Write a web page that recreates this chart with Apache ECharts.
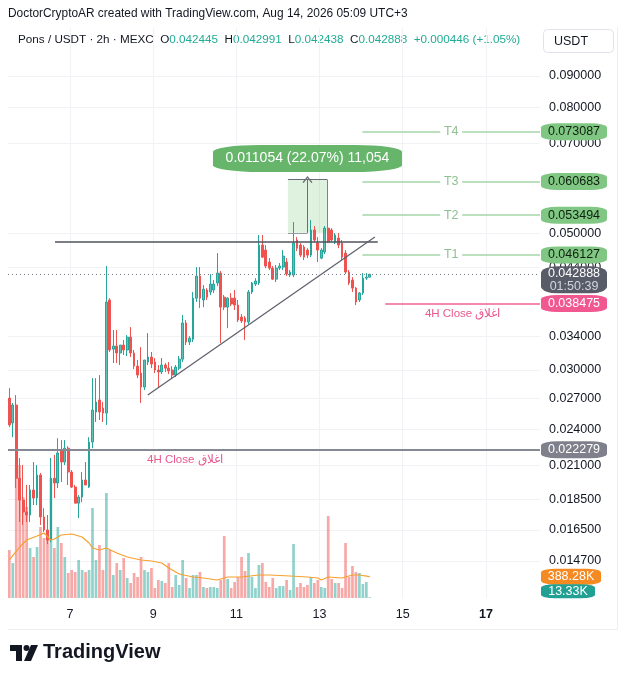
<!DOCTYPE html>
<html><head><meta charset="utf-8">
<script src="https://cdn.jsdelivr.net/npm/echarts@6.0.0/dist/echarts.min.js"></script>
<style>html,body{margin:0;padding:0;background:#fff}#c{width:628px;height:680px}</style>
</head><body><div id="c"></div>
<script>
const FONT = '"Liberation Sans", Arial, sans-serif';

// ---- time base (days of August, UTC+3), one 2h candle per step ----
const startDay = 5 + 13 / 24;
const candleStep = 1 / 12;

// ---- OHLC (USDT) ----
const openP = [0.02701,0.02461,0.02632,0.02002,0.01845,0.01765,0.01745,0.01916,0.01859,0.02026,
0.01732,0.01650,0.01589,0.02002,0.01967,0.02225,0.02127,0.02240,0.02049,0.01937,
0.01824,0.01866,0.01989,0.01937,0.02292,0.02564,0.02682,0.02602,0.02554,0.03897,
0.03243,0.03281,0.03197,0.03293,0.03233,0.03392,0.03197,0.03044,0.02966,0.02815,
0.03091,0.03149,0.03091,0.03000,0.02978,0.03056,0.03021,0.03000,0.02944,0.03021,
0.03124,0.03576,0.03331,0.03366,0.03924,0.04261,0.03897,0.04045,0.04015,0.04045,
0.04152,0.04310,0.03939,0.03795,0.03924,0.03924,0.03824,0.03656,0.03642,0.03589,
0.04015,0.04136,0.04152,0.04785,0.04697,0.04491,0.04390,0.04213,0.04390,0.04407,
0.04491,0.04278,0.04278,0.04876,0.04785,0.04749,0.04697,0.04609,0.05062,0.04821,
0.04557,0.04662,0.05098,0.05062,0.04840,0.04911,0.04821,0.04644,0.04326,0.04199,
0.04074,0.03897,0.04000,0.04229,0.042445];
const highP = [0.02804,0.02652,0.02732,0.02159,0.02103,0.01952,0.01952,0.02127,0.02103,0.02041,
0.01790,0.01745,0.02159,0.02184,0.02325,0.02309,0.02309,0.02257,0.02064,0.01952,
0.01880,0.02049,0.02127,0.02334,0.02910,0.02910,0.02944,0.02662,0.04424,0.03924,
0.03483,0.03483,0.03293,0.03356,0.03418,0.03522,0.03233,0.03114,0.03268,0.03114,
0.03444,0.03209,0.03137,0.03056,0.03137,0.03079,0.03091,0.03044,0.03056,0.03161,
0.03684,0.03616,0.03405,0.04015,0.04407,0.04407,0.04121,0.04074,0.04294,0.04199,
0.04644,0.04343,0.03970,0.03939,0.04000,0.04045,0.03897,0.03698,0.03670,0.04045,
0.04168,0.04229,0.04968,0.04968,0.04785,0.04557,0.04424,0.04441,0.04474,0.04697,
0.04557,0.04359,0.05216,0.04930,0.04821,0.04785,0.04730,0.05255,0.05137,0.04930,
0.04730,0.05137,0.06114,0.05098,0.05005,0.05005,0.04876,0.04697,0.04359,0.04245,
0.04089,0.04015,0.04310,0.04310,0.042991];
const lowP = [0.02424,0.02334,0.01930,0.01700,0.01681,0.01700,0.01700,0.01811,0.01811,0.01681,
0.01638,0.01565,0.01577,0.01859,0.01930,0.01974,0.02103,0.01952,0.01930,0.01824,
0.01725,0.01831,0.01952,0.01930,0.02240,0.02470,0.02489,0.02470,0.02443,0.03209,
0.03079,0.03079,0.03056,0.03173,0.03161,0.03149,0.03009,0.02910,0.02652,0.02784,
0.03056,0.03021,0.02966,0.02815,0.02955,0.02978,0.02955,0.02910,0.02922,0.03000,
0.03091,0.03293,0.03293,0.03331,0.03868,0.03781,0.03795,0.03897,0.03970,0.04000,
0.04105,0.03318,0.03754,0.03508,0.03810,0.03754,0.03589,0.03576,0.03356,0.03562,
0.03985,0.04105,0.04121,0.04557,0.04390,0.04359,0.04199,0.04168,0.04359,0.04359,
0.04261,0.04245,0.04245,0.04679,0.04574,0.04525,0.04557,0.04574,0.04840,0.04491,
0.04539,0.04627,0.04821,0.04840,0.04803,0.04730,0.04525,0.04294,0.04121,0.04015,
0.03824,0.03868,0.03970,0.04199,0.042438];
const closeP = [0.02443,0.02632,0.02002,0.01845,0.01765,0.01745,0.01916,0.01859,0.02026,0.01732,
0.01650,0.01589,0.02002,0.01967,0.02200,0.02127,0.02240,0.02049,0.01937,0.01824,
0.01866,0.01989,0.01952,0.02292,0.02583,0.02662,0.02564,0.02554,0.03868,0.03233,
0.03281,0.03197,0.03293,0.03233,0.03392,0.03197,0.03044,0.02944,0.02815,0.03114,
0.03149,0.03068,0.03000,0.02978,0.03056,0.03021,0.02989,0.02944,0.03033,0.03124,
0.03576,0.03331,0.03379,0.03924,0.04261,0.03924,0.04058,0.03939,0.04136,0.04136,
0.04310,0.03795,0.03795,0.03924,0.03839,0.03824,0.03616,0.03603,0.03589,0.04015,
0.04152,0.04183,0.04785,0.04574,0.04424,0.04390,0.04213,0.04390,0.04424,0.04592,
0.04294,0.04326,0.04821,0.04730,0.04609,0.04574,0.04609,0.05062,0.04876,0.04697,
0.04697,0.05098,0.04840,0.04876,0.04968,0.04785,0.04574,0.04326,0.04152,0.04074,
0.03868,0.04000,0.04229,0.042442,0.042888];

// ---- volume (thousands) ----
const volumeK = [874,637,2512,2421,1838,1656,910,746,928,1292,
1092,1183,2184,910,1292,1001,746,455,510,473,
692,510,473,510,1638,692,965,510,1911,874,
419,637,510,728,364,273,455,382,746,510,
473,546,182,328,309,273,637,200,419,237,
692,364,182,419,419,473,200,182,200,200,
182,328,1128,346,182,291,382,746,491,819,
382,182,601,637,291,200,364,182,218,218,
328,146,983,200,273,200,237,382,273,328,
200,182,1492,346,273,273,182,1001,382,582,
473,455,255,291,13.33];
// volume moving average: [candle index, value K]
const volMaPoints = [[0,692],[3,928],[5,1056],[8,1128],[10,1183],[12,1056],[13,1074],[15,1147],[18,1165],[21,1110],
[23,1001],[24,910],[26,874],[28,910],[31,819],[34,746],[38,692],[41,673],[44,637],[46,546],
[49,437],[53,382],[56,364],[60,328],[63,382],[67,382],[72,419],[75,419],[81,400],[86,382],
[89,364],[90,328],[92,382],[96,364],[99,419],[101,419],[104,388.28]];

// ---- axes ----
const priceTicks = [0.09,0.08,0.07,0.05,0.044,0.034,0.03,0.027,0.024,0.021,0.0185,0.0165,0.0147];
const dayTicks = [7,9,11,13,15,17];
const boldDay = 17;
const xMin = 5.51, xMax = 18.30;
const priceMin = 0.012797, priceMax = 0.107685;
const volMax = 10374;

// ---- drawings ----
const targets = [{name:'T4',price:0.073087},{name:'T3',price:0.060683},{name:'T2',price:0.053494},{name:'T1',price:0.046127}];
const targetStartDay = 14.03;
const resistance = {price:0.0484, from:6.64, to:14.40};
const trendLine = [[8.87,0.02732],[14.33,0.04930]];
const closePink = {price:0.038475, from:14.58, text:'4H Close اغلاق'};
const closeGray = {price:0.022279, labelDay:9.76, text:'4H Close اغلاق'};
const measure = {from:0.050087, to:0.061141, startDay:12.24, endDay:13.18};
const countdown = '01:50:39';

const UP = '#26a69a', DOWN = '#ef5350';
const times = openP.map((_, i) => startDay + i * candleStep);
const n = openP.length, last = n - 1;
const lastClose = closeP[last];
const change = lastClose - closeP[last - 1];
const changePct = change / closeP[last - 1] * 100;
const f6 = v => v.toFixed(6);

function tag(coordPrice, bg, fg, text, size, offset, extraLabel) {
  return {
    coord: [xMax, coordPrice], symbol: 'roundRect', symbolSize: size || [66, 17],
    symbolOffset: offset || [34, 0], itemStyle: {color: bg},
    label: Object.assign({show: true, position: 'inside', formatter: text, color: fg,
      fontSize: 12.5, fontFamily: FONT}, extraLabel || {})
  };
}
function solid(color, width) { return {color: color, width: width, type: 'solid'}; }

const mDiff = measure.to - measure.from;
const measureText = f6(mDiff) + ' (' + (mDiff / measure.from * 100).toFixed(2) + '%) ' +
  Math.round(mDiff * 1e6).toLocaleString('en-US');
const mMid = (measure.startDay + measure.endDay) / 2;

const lineMarks = [
  [{coord:[resistance.from, resistance.price], lineStyle:solid('#50535e', 1.5)}, {coord:[resistance.to, resistance.price]}],
  [{coord:trendLine[0], lineStyle:solid('#5d606b', 1.2)}, {coord:trendLine[1]}],
  ...targets.map(t => [{coord:[targetStartDay, t.price], lineStyle:solid('#a5d6a7', 1.5)}, {coord:[xMax, t.price]}]),
  [{coord:[closePink.from, closePink.price], lineStyle:solid('#f06292', 1.5),
    label:{show:true, position:'insideMiddleBottom', formatter:closePink.text, color:'#e8588d', fontSize:11.5, fontFamily:FONT, distance:4}},
   {coord:[xMax, closePink.price]}],
  [{coord:[xMin, closeGray.price], lineStyle:solid('#868993', 2)}, {coord:[xMax, closeGray.price]}],
  [{coord:[xMin, lastClose], lineStyle:{color:'#787b86', width:1, type:[1,3]}}, {coord:[xMax, lastClose]}],
  [{coord:[measure.startDay, measure.to], lineStyle:solid('#6a6d78', 1)}, {coord:[measure.endDay, measure.to]}],
  [{coord:[measure.startDay, measure.from], lineStyle:solid('#9598a1', 1)}, {coord:[mMid, measure.from]}],
  [{coord:[mMid, measure.from], symbol:'none', lineStyle:solid('#6a6d78', 1)},
   {coord:[mMid, measure.to], symbol:'path://M0,8 L5,0 L10,8 L8.8,9 L5,2.6 L1.2,9 Z', symbolSize:[10,7]}]
];

const pointMarks = [
  ...targets.map(t => ({coord:[(targetStartDay + xMax) / 2, t.price], symbol:'rect', symbolSize:[22,14],
    itemStyle:{color:'#ffffff'}, label:{show:true, position:'inside', formatter:t.name, color:'#8fbf92', fontSize:12.5, fontFamily:FONT}})),
  {coord:[closeGray.labelDay, closeGray.price], symbol:'rect', symbolSize:[1,1], itemStyle:{color:'rgba(0,0,0,0)'},
    label:{show:true, position:'bottom', distance:4, formatter:closeGray.text, color:'#e8588d', fontSize:11.5, fontFamily:FONT}},
  {coord:[mMid, measure.to], symbol:'roundRect', symbolSize:[189,27], symbolOffset:[0,-21], itemStyle:{color:'#66b56a'},
    label:{show:true, position:'inside', formatter:measureText, color:'#ffffff', fontSize:14, fontFamily:FONT}},
  ...targets.map(t => tag(t.price, '#81c784', '#10200f', f6(t.price))),
  tag(closePink.price, '#f0588f', '#ffffff', f6(closePink.price)),
  tag(closeGray.price, '#7e818b', '#ffffff', f6(closeGray.price)),
  tag(lastClose, '#585c68', '#ffffff', '{a|' + f6(lastClose) + '}\n{b|' + countdown + '}', [66,27], [34,5.5],
    {rich:{a:{color:'#ffffff', fontSize:12.5, fontFamily:FONT, lineHeight:13}, b:{color:'#d1d4dc', fontSize:12.5, fontFamily:FONT, lineHeight:13}}})
];

const maLast = volMaPoints[volMaPoints.length - 1][1];
const fmtK = v => v.toFixed(2) + 'K';
const HFONT = '"Liberation Sans", Arial, sans-serif';

const option = {
  animation: false,
  backgroundColor: '#ffffff',
  grid: {left: 8, right: 88, top: 28, bottom: 82, containLabel: false},
  xAxis: {
    type: 'value', min: xMin, max: xMax,
    axisLine: {show: false}, axisTick: {show: false, customValues: dayTicks},
    axisLabel: {customValues: dayTicks, color: '#131722', fontSize: 12.5, fontFamily: FONT, margin: 10,
      formatter: v => v === boldDay ? '{b|' + v + '}' : String(v),
      rich: {b: {fontWeight: 'bold', fontSize: 12.5, fontFamily: FONT, color: '#131722'}}},
    splitLine: {show: true, lineStyle: {color: '#f0f2f6', width: 1}}
  },
  yAxis: [{
    type: 'log', logBase: 10, position: 'right', min: priceMin, max: priceMax,
    axisLine: {show: false}, axisTick: {show: false, customValues: priceTicks},
    axisLabel: {customValues: priceTicks, formatter: v => Number(v).toFixed(6), color: '#131722',
      fontSize: 12.5, fontFamily: FONT, margin: 9},
    splitLine: {show: true, lineStyle: {color: '#f0f2f6', width: 1}}
  }, {
    type: 'value', min: 0, max: volMax, show: false, splitLine: {show: false}
  }],
  graphic: [
    {type: 'line', shape: {x1: 617.5, y1: 27, x2: 617.5, y2: 630}, style: {stroke: '#eceef2', lineWidth: 1}, z: -1},
    {type: 'line', shape: {x1: 8, y1: 629.5, x2: 618, y2: 629.5}, style: {stroke: '#eceef2', lineWidth: 1}, z: -1},
    {type: 'text', left: 8, top: 8, style: {text: 'DoctorCryptoAR created with TradingView.com, Aug 14, 2026 05:09 UTC+3',
      font: '11.9px ' + HFONT, fill: '#131722'}},
    {type: 'text', left: 18, top: 34, style: {
      text: 'Pons / USDT · 2h · MEXC  O{g|' + f6(openP[last]) + '}  H{g|' + f6(highP[last]) + '}  L{g|' + f6(lowP[last]) +
        '}  C{g|' + f6(lastClose) + '}  {g|' + (change >= 0 ? '+' : '') + f6(change) + ' (' + (changePct >= 0 ? '+' : '') + changePct.toFixed(2) + '%)}',
      font: '11.7px ' + HFONT, fill: '#131722', rich: {g: {fill: '#22ab94', font: '11.7px ' + HFONT}}}},
    {type: 'rect', shape: {x: 543.5, y: 29.5, width: 70, height: 23, r: 4}, style: {fill: '#ffffff', stroke: '#e0e3eb', lineWidth: 1}},
    {type: 'text', left: 554, top: 35, style: {text: 'USDT', font: '12.5px ' + FONT, fill: '#131722'}},
    {type: 'polygon', shape: {points: [[10,645],[22,645],[22,661],[16,661],[16,651],[10,651]]}, style: {fill: '#131722'}},
    {type: 'circle', shape: {cx: 26.5, cy: 648, r: 3}, style: {fill: '#131722'}},
    {type: 'polygon', shape: {points: [[31,645],[38,645],[31,661],[24,661]]}, style: {fill: '#131722'}},
    {type: 'text', left: 43, top: 642, style: {text: 'TradingView', font: 'bold 20px ' + FONT, fill: '#131722'}}
  ],
  series: [{
    type: 'bar', name: 'Volume', xAxisIndex: 0, yAxisIndex: 1, barWidth: 2.7, silent: true,
    data: volumeK.map((v, i) => ({value: [times[i], v], itemStyle: {color: closeP[i] >= openP[i] ? 'rgba(38,166,154,0.5)' : 'rgba(239,83,80,0.5)'}})),
    markPoint: {silent: true, data: [
      tag(maLast, '#f68a22', '#ffffff', fmtK(maLast), [60,16], [31,0]),
      tag(volumeK[last], '#22a094', '#ffffff', fmtK(volumeK[last]), [54,14], [28,-6])
    ]}
  }, {
    type: 'line', name: 'Vol MA', xAxisIndex: 0, yAxisIndex: 1, symbol: 'none', silent: true,
    lineStyle: {color: '#f7a02e', width: 1.2},
    data: volMaPoints.map(([i, v]) => [times[i], v])
  }, {
    type: 'candlestick', name: 'Pons/USDT', xAxisIndex: 0, yAxisIndex: 0, barWidth: 2.2, silent: true,
    itemStyle: {color: 'rgba(38,166,154,0.72)', color0: DOWN, borderColor: UP, borderColor0: DOWN, borderWidth: 1},
    data: times.map((t, i) => [t, openP[i], closeP[i], lowP[i], highP[i]]),
    markArea: {silent: true, itemStyle: {color: 'rgba(76,175,80,0.18)'},
      data: [[{coord: [measure.startDay, measure.from]}, {coord: [measure.endDay, measure.to]}]]},
    markLine: {silent: true, symbol: ['none', 'none'], label: {show: false}, lineStyle: {type: 'solid'}, data: lineMarks},
    markPoint: {silent: true, data: pointMarks}
  }]
};

const chart = echarts.init(document.getElementById('c'), null, {renderer: 'canvas', width: 628, height: 680});
chart.setOption(option);
</script>
</body></html>
